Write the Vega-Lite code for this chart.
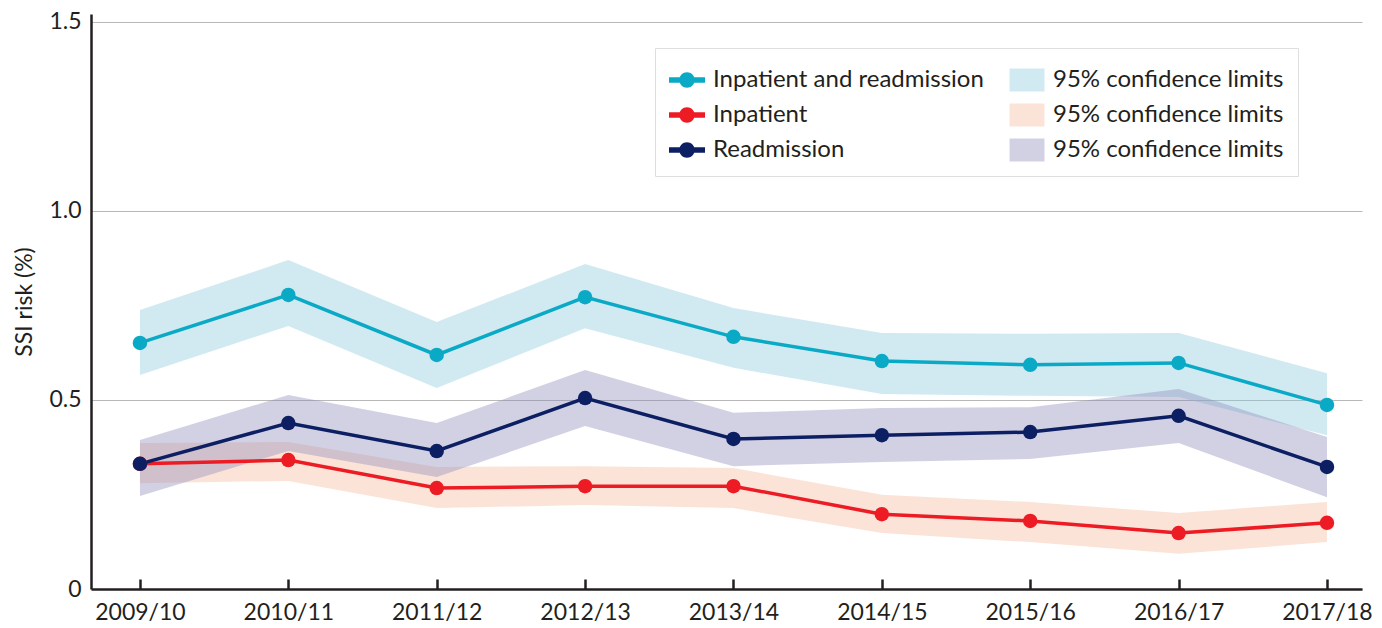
{
  "$schema": "https://vega.github.io/schema/vega-lite/v6.json",
  "width": 1271,
  "height": 575,
  "autosize": {"type": "none"},
  "padding": {"left": 91, "top": 14, "right": 20, "bottom": 39},
  "background": "white",
  "config": {
    "view": {"stroke": null},
    "font": "Lato",
    "axis": {"labelFont": "Lato", "titleFont": "Lato", "labelColor": "#231f20", "titleColor": "#231f20"}
  },
  "data": {
    "values": [
      {"year": "2009/10", "series": "Inpatient and readmission", "ci": "CI1", "value": 0.651, "lo": 0.566, "hi": 0.738},
      {"year": "2010/11", "series": "Inpatient and readmission", "ci": "CI1", "value": 0.778, "lo": 0.696, "hi": 0.870},
      {"year": "2011/12", "series": "Inpatient and readmission", "ci": "CI1", "value": 0.619, "lo": 0.532, "hi": 0.706},
      {"year": "2012/13", "series": "Inpatient and readmission", "ci": "CI1", "value": 0.772, "lo": 0.690, "hi": 0.860},
      {"year": "2013/14", "series": "Inpatient and readmission", "ci": "CI1", "value": 0.667, "lo": 0.585, "hi": 0.743},
      {"year": "2014/15", "series": "Inpatient and readmission", "ci": "CI1", "value": 0.603, "lo": 0.516, "hi": 0.677},
      {"year": "2015/16", "series": "Inpatient and readmission", "ci": "CI1", "value": 0.593, "lo": 0.511, "hi": 0.675},
      {"year": "2016/17", "series": "Inpatient and readmission", "ci": "CI1", "value": 0.598, "lo": 0.508, "hi": 0.677},
      {"year": "2017/18", "series": "Inpatient and readmission", "ci": "CI1", "value": 0.487, "lo": 0.407, "hi": 0.571},
      {"year": "2009/10", "series": "Inpatient", "ci": "CI2", "value": 0.331, "lo": 0.280, "hi": 0.386},
      {"year": "2010/11", "series": "Inpatient", "ci": "CI2", "value": 0.341, "lo": 0.286, "hi": 0.389},
      {"year": "2011/12", "series": "Inpatient", "ci": "CI2", "value": 0.267, "lo": 0.214, "hi": 0.323},
      {"year": "2012/13", "series": "Inpatient", "ci": "CI2", "value": 0.272, "lo": 0.222, "hi": 0.325},
      {"year": "2013/14", "series": "Inpatient", "ci": "CI2", "value": 0.272, "lo": 0.214, "hi": 0.320},
      {"year": "2014/15", "series": "Inpatient", "ci": "CI2", "value": 0.198, "lo": 0.148, "hi": 0.249},
      {"year": "2015/16", "series": "Inpatient", "ci": "CI2", "value": 0.180, "lo": 0.124, "hi": 0.230},
      {"year": "2016/17", "series": "Inpatient", "ci": "CI2", "value": 0.148, "lo": 0.093, "hi": 0.201},
      {"year": "2017/18", "series": "Inpatient", "ci": "CI2", "value": 0.175, "lo": 0.124, "hi": 0.230},
      {"year": "2009/10", "series": "Readmission", "ci": "CI3", "value": 0.331, "lo": 0.246, "hi": 0.394},
      {"year": "2010/11", "series": "Readmission", "ci": "CI3", "value": 0.439, "lo": 0.365, "hi": 0.513},
      {"year": "2011/12", "series": "Readmission", "ci": "CI3", "value": 0.365, "lo": 0.296, "hi": 0.439},
      {"year": "2012/13", "series": "Readmission", "ci": "CI3", "value": 0.505, "lo": 0.431, "hi": 0.579},
      {"year": "2013/14", "series": "Readmission", "ci": "CI3", "value": 0.397, "lo": 0.325, "hi": 0.466},
      {"year": "2014/15", "series": "Readmission", "ci": "CI3", "value": 0.407, "lo": 0.336, "hi": 0.479},
      {"year": "2015/16", "series": "Readmission", "ci": "CI3", "value": 0.415, "lo": 0.344, "hi": 0.481},
      {"year": "2016/17", "series": "Readmission", "ci": "CI3", "value": 0.458, "lo": 0.386, "hi": 0.529},
      {"year": "2017/18", "series": "Readmission", "ci": "CI3", "value": 0.323, "lo": 0.243, "hi": 0.402}
    ]
  },
  "encoding": {
    "x": {
      "field": "year", "type": "ordinal",
      "scale": {"type": "point", "padding": 0.283, "align": 0.583},
      "axis": {
        "title": null, "labelAngle": 0, "labelFontSize": 23, "labelPadding": 22,
        "domainColor": "#231f20", "domainWidth": 2.5,
        "tickColor": "#231f20", "tickWidth": 2.5, "tickSize": -10,
        "grid": false, "labelFlush": false
      }
    }
  },
  "layer": [
    {
      "mark": {"type": "area", "fillOpacity": 0.4},
      "encoding": {
        "y": {
          "field": "lo", "type": "quantitative",
          "scale": {"domain": [0, 1.521], "nice": false, "zero": true},
          "axis": {
            "title": "SSI risk (%)", "titleFontSize": 23, "titleFontWeight": "normal", "titlePadding": 12,
            "values": [0, 0.5, 1, 1.5],
            "labelExpr": "datum.value == 0 ? '0' : format(datum.value, '.1f')",
            "labelFontSize": 23, "labelPadding": 10, "ticks": false,
            "domainColor": "#231f20", "domainWidth": 2.5,
            "grid": true, "gridColor": "#b8b8b8", "gridWidth": 1
          }
        },
        "y2": {"field": "hi"},
        "color": {
          "field": "ci", "type": "nominal",
          "scale": {
            "domain": ["Inpatient and readmission", "Inpatient", "Readmission", "CI1", "CI2", "CI3"],
            "range": ["#0aaac6", "#ed1c24", "#0d1f63", "#8cc8dd", "#f5b89a", "#8e8cbb"]
          },
          "legend": {
            "orient": "none", "legendX": 564, "legendY": 34, "columns": 2, "title": null,
            "padding": 14, "fillColor": "white", "strokeColor": "#dedede",
            "labelFont": "Lato", "labelFontSize": 24, "labelColor": "#231f20", "labelLimit": 400,
            "labelExpr": "indexof(datum.label, 'CI') == 0 ? '95% confidence limits' : datum.label",
            "symbolSize": 1296, "rowPadding": 5, "columnPadding": 25, "labelOffset": 8, "symbolLimit": 0,
            "symbolStrokeWidth": 0, "symbolOpacity": 1,
            "encode": {
              "symbols": {
                "update": {
                  "shape": {"signal": "indexof(datum.value, 'CI') == 0 ? 'M-0.97,-0.64H0.97V0.64H-0.97Z' : 'M-1,-0.15H1V0.15H-1Z M0.43,0A0.43,0.43 0 1,1 -0.43,0A0.43,0.43 0 1,1 0.43,0Z'"},
                  "fill": {"signal": "scale('color', datum.value)"},
                  "fillOpacity": {"signal": "indexof(datum.value, 'CI') == 0 ? 0.4 : 1"}
                }
              }
            }
          }
        }
      }
    },
    {
      "mark": {"type": "line", "strokeWidth": 3.5},
      "encoding": {
        "y": {"field": "value", "type": "quantitative"},
        "color": {"field": "series", "type": "nominal"}
      }
    },
    {
      "mark": {"type": "point", "filled": true, "size": 210, "opacity": 1},
      "encoding": {
        "y": {"field": "value", "type": "quantitative"},
        "color": {"field": "series", "type": "nominal"}
      }
    }
  ]
}
